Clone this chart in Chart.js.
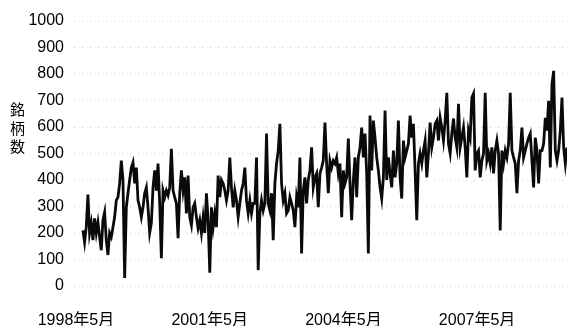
<!DOCTYPE html>
<html>
<head>
<meta charset="utf-8">
<script src="https://cdn.jsdelivr.net/npm/chart.js@4/dist/chart.umd.min.js"></script>
<style>
  html, body { margin: 0; padding: 0; background: #fff; }
  #wrap { position: relative; width: 567px; height: 326px; }
  #ytitle {
    position: absolute; left: 10px; top: 102px;
    writing-mode: vertical-rl; text-orientation: upright;
    font-family: "Noto Sans CJK JP", sans-serif; font-size: 15px;
    letter-spacing: 3.5px; line-height: 15px; color: #000;
  }
</style>
</head>
<body>
<div id="wrap">
  <canvas id="c" width="567" height="326"></canvas>
  <div id="ytitle">銘柄数</div>
</div>
<script>
// Number of stocks, sampled roughly every two weeks from mid-1998 on
const counts = [
  210,165,222,345,200,237,173,255,200,240,185,135,248,278,173,117,200,185,222,260,323,335,387,473,400,30,297,350,400,447,466,387,447,323,297,260,297,350,372,297,200,
  237,372,436,360,462,312,105,360,335,360,342,372,518,360,335,312,180,350,436,360,410,274,417,260,230,297,312,260,218,248,200,260,200,350,248,50,297,222,274,222,417,335,400,
  387,360,323,360,485,372,297,360,323,260,312,360,387,447,323,274,323,274,312,312,485,60,274,323,285,312,575,312,285,350,173,387,462,511,612,387,323,350,274,285,335,312,
  285,222,335,297,485,123,360,410,312,400,436,523,372,410,425,297,425,447,473,617,462,350,473,447,473,462,485,425,462,260,436,387,410,556,387,248,400,485,335,485,523,598,485,
  575,425,123,643,436,624,560,485,436,372,330,410,662,400,485,425,372,511,410,462,624,410,330,549,485,511,537,643,560,612,436,248,462,500,462,511,549,410,500,617,523,560,612,
  624,549,635,598,549,624,729,537,500,575,632,560,523,688,523,560,598,523,410,587,560,711,726,436,500,511,410,473,500,729,473,500,462,523,425,511,549,500,
  210,511,462,511,485,537,729,511,485,462,350,473,511,598,485,511,537,560,575,473,372,560,511,387,511,511,537,635,587,699,447,763,812,511,473,511,587,711,523,462,523
];

// Time axis in decimal years
const startYear = 1998.49;   // first observation
const axisMin = 1998.29;
const axisMax = 2009.35;     // last observation sits on the right edge
const tickPositions = [1998 + 4 / 12, 2001 + 4 / 12, 2004 + 4 / 12, 2007 + 4 / 12];
const tickLabels = ['1998年5月', '2001年5月', '2004年5月', '2007年5月'];
const yTicks = [0, 100, 200, 300, 400, 500, 600, 700, 800, 900, 1000];

const step = (axisMax - startYear) / (counts.length - 1);
const points = counts.map((v, i) => ({ x: startYear + i * step, y: v }));

Chart.defaults.font.family = "'Liberation Sans', 'Noto Sans CJK JP', Arial, sans-serif";
Chart.defaults.font.size = 16;
Chart.defaults.color = '#000';

new Chart(document.getElementById('c'), {
  type: 'line',
  data: {
    datasets: [{
      data: points,
      borderColor: '#0a0a0a',
      borderWidth: 2.8,
      pointRadius: 0,
      tension: 0,
      fill: false
    }]
  },
  options: {
    responsive: false,
    animation: false,
    events: [],
    layout: { padding: { left: 0, right: 0, top: 21, bottom: 0 } },
    plugins: { legend: { display: false }, tooltip: { enabled: false } },
    scales: {
      x: {
        type: 'linear',
        min: axisMin,
        max: axisMax,
        grid: { display: false },
        border: { display: false },
        afterBuildTicks: s => { s.ticks = tickPositions.map(v => ({ value: v })); },
        afterFit: s => { s.height = 40; },
        ticks: {
          autoSkip: false,
          maxRotation: 0,
          padding: 17,
          callback: (v, i) => tickLabels[i]
        }
      },
      y: {
        min: 0,
        max: 1000,
        afterBuildTicks: s => { s.ticks = yTicks.map(v => ({ value: v })); },
        afterFit: s => { s.width = 74; },
        grid: {
          color: '#c4c4c4',
          lineWidth: 1,
          drawTicks: false,
          borderDash: [1, 7]
        },
        border: { display: false, dash: [1, 7] },
        ticks: {
          padding: 10,
          callback: v => String(v)
        }
      }
    }
  }
});
</script>
</body>
</html>
